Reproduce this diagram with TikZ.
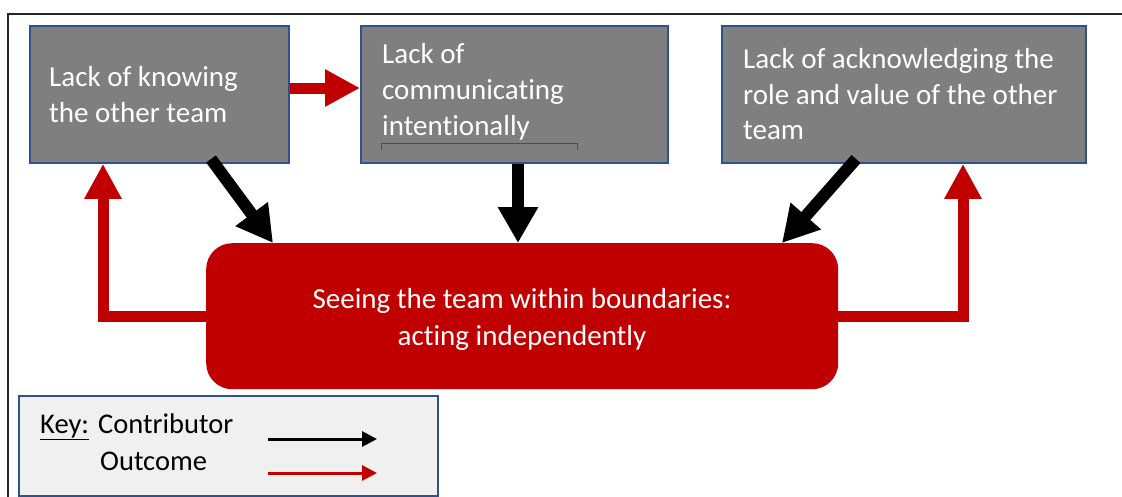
\documentclass[tikz,border=0pt]{standalone}
\usepackage{fontspec}
\setmainfont[Ligatures={NoCommon}]{Carlito}
\usetikzlibrary{arrows.meta,calc}
\definecolor{boxgray}{HTML}{7F7F7F}
\definecolor{boxblue}{HTML}{2F528F}
\definecolor{darkred}{HTML}{C00000}
\definecolor{keyfill}{HTML}{F0F0F0}
\tikzset{
  cause/.style={draw=boxblue,line width=1.8pt,fill=boxgray,inner sep=0pt},
  boxtext/.style={text=white,anchor=base west,inner sep=0pt,font=\fontsize{29}{36}\selectfont},
  contrib/.style={draw=black,line width=12pt,-{Triangle[length=36pt,width=38pt]}},
  outcome/.style={draw=darkred,line width=11pt,line join=miter,-{Triangle[length=35pt,width=35pt]}},
  keytext/.style={anchor=base west,inner sep=0pt,font=\fontsize{28.5}{34}\selectfont},
}
\begin{document}
\begin{tikzpicture}[x=1pt,y=-1pt]
\useasboundingbox (0,0) rectangle (1122,496);
% outer frame
\draw[line width=2.4pt,black!85] (8,14) rectangle (1130,505);
% cause boxes
\node[cause,minimum width=259pt,minimum height=137pt,anchor=north west] (b1) at (29,25) {};
\node[cause,minimum width=307pt,minimum height=137pt,anchor=north west] (b2) at (360,25) {};
\node[cause,minimum width=364pt,minimum height=137pt,anchor=north west] (b3) at (721,25) {};
\node[boxtext] (t1a) at (49,86) {Lack of knowing};
\node[boxtext] (t1b) at (49,122) {the other team};
\node[boxtext] (t2a) at (382,63) {Lack of};
\node[boxtext] (t2b) at (382,99) {communicating};
\node[boxtext] (t2c) at (382,135) {intentionally};
\node[boxtext] (t3a) at (743,68) {Lack of acknowledging the};
\node[boxtext] (t3b) at (743,104) {role and value of the other};
\node[boxtext] (t3c) at (743,139) {team};
\draw[boxblue,line width=1pt] (381,150) -- (381,143.5) -- (577,143.5) -- (577,150);
% outcome box
\node[fill=darkred,rounded corners=26pt,minimum width=632pt,minimum height=146pt,anchor=north west,inner sep=0pt] (out) at (206,243) {};
\node[text=white,align=center,font=\fontsize{29}{37}\selectfont,inner sep=0pt] (outt) at (522,319) {Seeing the team within boundaries:\\acting independently};
% contributor arrows
\coordinate (c1s) at (211,159);
\coordinate (c1e) at (273,243);
\coordinate (c3s) at (856,159);
\coordinate (c3e) at (782,243);
\draw[contrib] (c1s) -- (c1e);
\draw[contrib] (b2.south -| 518,0) -- (out.north -| 518,0);
\draw[contrib] (c3s) -- (c3e);
% outcome arrows
\draw[outcome] (b1.east |- 0,88) -- (b2.west |- 0,88);
\draw[outcome] (out.west |- 0,316) -- (103,316) -- (b1.south -| 103,0);
\draw[outcome] (out.east |- 0,316) -- (963,316) -- (b3.south -| 963,0);
% key
\node[draw=boxblue,line width=1.8pt,fill=keyfill,minimum width=419pt,minimum height=100pt,anchor=north west,inner sep=0pt] (key) at (18,395) {};
\node[keytext] (k1) at (40,433) {\underline{Key:}};
\node[keytext] (k2) at (98,433) {Contributor};
\node[keytext] (k3) at (100,470) {Outcome};
\coordinate (ka1) at (268,439);
\coordinate (ka2) at (377,439);
\coordinate (kb1) at (268,473);
\coordinate (kb2) at (377,473);
\draw[black,line width=3pt,-{Triangle[length=15pt,width=15pt]}] (ka1) -- (ka2);
\draw[darkred,line width=3pt,-{Triangle[length=15pt,width=15pt]}] (kb1) -- (kb2);
\end{tikzpicture}
\end{document}
